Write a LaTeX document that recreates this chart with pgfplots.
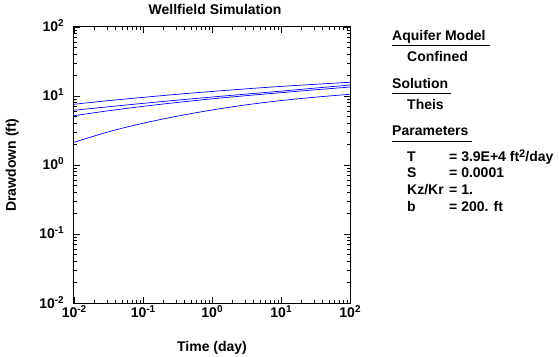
\documentclass[border=0pt]{standalone}
\usepackage{fontspec}
\setmainfont{Liberation Sans}
\usepackage{pgfplots}
\pgfplotsset{compat=1.18}
\newcommand{\lf}{\fontsize{14}{14}\selectfont\bfseries}
\newcommand{\ex}[1]{\raisebox{5pt}{\fontsize{10}{10}\selectfont\bfseries #1}}
\begin{document}
\begin{tikzpicture}[x=1pt,y=1pt]
\path[use as bounding box] (0,0) rectangle (559,356);
\begin{axis}[at={(74pt,53pt)}, anchor=south west, scale only axis,
  width=276pt, height=276pt,
  xmode=log, ymode=log, xmin=0.01, xmax=100, ymin=0.01, ymax=100,
  xtick={0.01,0.1,1,10,100},
  xticklabels={10\ex{-2},10\ex{-1},10\ex{0},10\ex{1},10\ex{2}},
  ytick={0.01,0.1,1,10,100},
  yticklabels={10\ex{-2},10\ex{-1},10\ex{0},10\ex{1},10\ex{2}},
  tick align=inside, major tick length=6pt, minor tick length=3pt,
  axis line style={line width=1pt},
  every tick/.style={black, line width=0.6pt},
  xticklabel style={font=\lf, anchor=base, inner sep=0pt, yshift=-14pt},
  yticklabel style={font=\lf, anchor=base east, inner sep=0pt, xshift=-10pt, yshift=-5pt},
]
\addplot[blue, line width=0.7pt, smooth] coordinates {
(0.01,7.59) (0.0316,8.57) (0.1,9.55) (0.316,10.59) (1,11.64) (3.16,12.71) (10,13.77) (31.6,14.79) (100,15.81)};
\addplot[blue, line width=0.7pt, smooth] coordinates {
(0.01,6.21) (0.0316,6.98) (0.1,7.82) (0.316,8.71) (1,9.66) (3.16,10.67) (10,11.75) (31.6,13.03) (100,14.42)};
\addplot[blue, line width=0.7pt, smooth] coordinates {
(0.01,5.18) (0.0316,6.11) (0.1,7.08) (0.316,8.07) (1,9.10) (3.16,10.12) (10,11.17) (31.6,12.30) (100,13.49)};
\addplot[blue, line width=0.7pt, smooth] coordinates {
(0.01,2.13) (0.0316,3.03) (0.1,4.03) (0.316,5.11) (1,6.27) (3.16,7.45) (10,8.59) (31.6,9.62) (100,10.59)};
\end{axis}
\node[font=\lf, anchor=base] at (215,341.5) {Wellfield Simulation};
\node[font=\lf, anchor=base] at (212,5) {Time (day)};
\node[font=\lf, anchor=base, rotate=90] at (16,191) {Drawdown (ft)};
\begin{scope}[every node/.style={font=\lf, anchor=base west, inner sep=0pt}]
\node at (392,315) {Aquifer Model};
\draw[line width=1pt] (392,310) -- (490,310);
\node at (407,294) {Confined};
\node at (392,267.5) {Solution};
\draw[line width=1pt] (392,262) -- (451,262);
\node at (407,246.5) {Theis};
\node at (392,220.5) {Parameters};
\draw[line width=1pt] (392,214) -- (472,214);
\node at (407,194) {T};
\node at (449,194) {= 3.9E+4 ft\raisebox{4pt}{\fontsize{11}{11}\selectfont\bfseries 2}/day};
\node at (407,178.5) {S};
\node at (449,178.5) {= 0.0001};
\node at (407,161) {Kz/Kr};
\node at (449,161) {= 1.};
\node at (407,144) {b};
\node at (449,144) {= 200. ft};
\end{scope}
\end{tikzpicture}
\end{document}
